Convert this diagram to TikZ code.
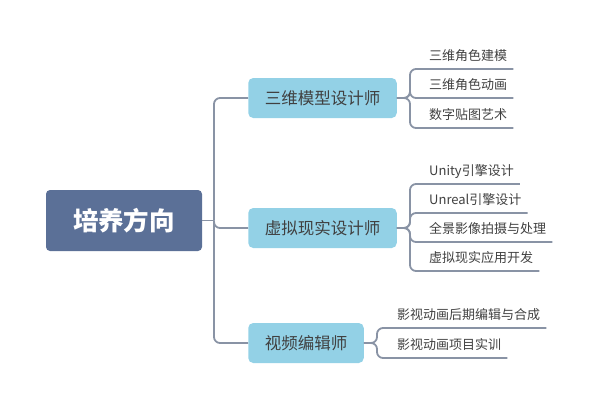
\documentclass[tikz,border=0pt]{standalone}
\usepackage{fontspec}
\setmainfont{Noto Sans CJK SC}
\usetikzlibrary{positioning}
\definecolor{rootblue}{RGB}{91,112,151}
\definecolor{subblue}{RGB}{147,209,230}
\definecolor{linkgray}{RGB}{137,147,165}
\definecolor{textgray}{RGB}{64,64,64}
\tikzset{
  rootbox/.style={fill=rootblue, text=white, rounded corners=4, inner xsep=27, minimum height=61,
    font=\fontsize{25.5}{29}\selectfont\bfseries},
  subbox/.style={fill=subblue, text=textgray, rounded corners=5, inner xsep=16.5, minimum height=40,
    font=\fontsize{16.5}{20}\selectfont},
  leaf/.style={anchor=south west, text=textgray, inner xsep=6, inner ysep=5, text height=10, text depth=3,
    font=\fontsize{13}{15}\selectfont},
  link/.style={draw=linkgray, line width=1.8, rounded corners=6},
}
\begin{document}
\begin{tikzpicture}[x=1pt,y=-1pt]
\useasboundingbox (0,0) rectangle (598,410);
\node[rootbox] (root) at (124,220.5) {培养方向};
\node[subbox] (model) at (322.5,98) {三维模型设计师};
\node[subbox] (vr) at (322.5,228) {虚拟现实设计师};
\node[subbox] (video) at (306,343) {视频编辑师};
\coordinate (trunk) at (214,220.5);
\coordinate (jmodel) at (410,98);
\coordinate (jvr) at (410,228);
\coordinate (jvideo) at (377,343);
\node[leaf] (m1) at (423,69) {三维角色建模};
\node[leaf] (m2) at (423,98) {三维角色动画};
\node[leaf] (m3) at (423,128) {数字贴图艺术};
\node[leaf] (v1) at (423,184) {Unity引擎设计};
\node[leaf] (v2) at (423,213) {Unreal引擎设计};
\node[leaf] (v3) at (423,242) {全景影像拍摄与处理};
\node[leaf] (v4) at (423,271) {虚拟现实应用开发};
\node[leaf] (e1) at (391,328) {影视动画后期编辑与合成};
\node[leaf] (e2) at (391,358) {影视动画项目实训};
\draw[link] (root) -- (trunk);
\draw[link] (trunk) |- (model);
\draw[link] (trunk) |- (vr);
\draw[link] (trunk) |- (video);
\foreach \leafname in {m1,m2,m3}
  \draw[link] (model) -- (jmodel) |- (\leafname.south west) -- (\leafname.south east);
\foreach \leafname in {v1,v2,v3,v4}
  \draw[link] (vr) -- (jvr) |- (\leafname.south west) -- (\leafname.south east);
\foreach \leafname in {e1,e2}
  \draw[link] (video) -- (jvideo) |- (\leafname.south west) -- (\leafname.south east);
\end{tikzpicture}
\end{document}
